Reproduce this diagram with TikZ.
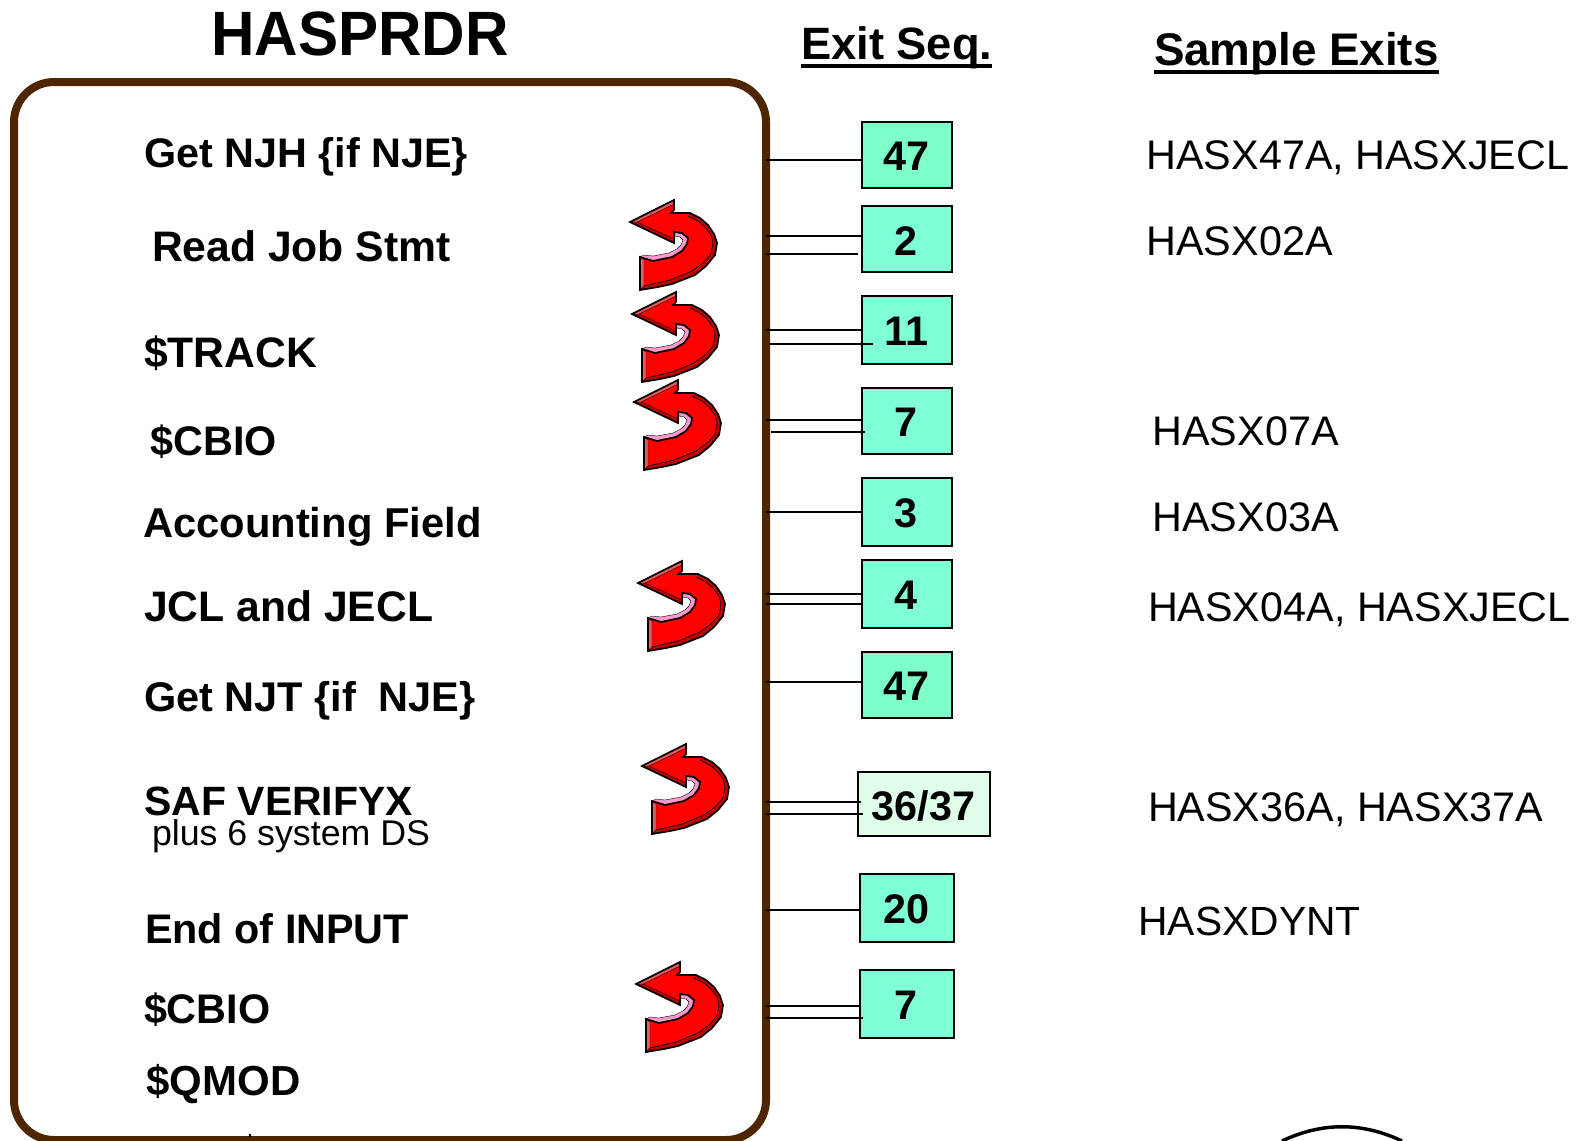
\documentclass[tikz,border=0pt]{standalone}
\usepackage{fontspec}
\setmainfont{Liberation Sans}
\newfontfamily\titlefont{Liberation Sans}[FakeStretch=0.96]
\newcommand{\ulbox}[1]{\setbox0=\hbox{#1}\rlap{\rule[-6pt]{\wd0}{3pt}}\box0}
\newcommand{\seqnode}[7][seqfill]{%
  \pgfmathsetmacro{\cxv}{(#3+#5)/2}\pgfmathsetmacro{\cyv}{(#4+#6)/2}%
  \pgfmathsetmacro{\wv}{(#5-#3)*0.75}\pgfmathsetmacro{\hv}{(#6-#4)*0.75}%
  \node[seqbox,fill=#1,minimum width=\wv pt,minimum height=\hv pt] (#2) at (\cxv,\cyv) {\raisebox{-1.2pt}[\height][\depth]{\kern-1pt #7}};}
\newcommand{\uturnoutline}{(0,0)--(44,-22)--(44,-12)--(41,-9)--(60,-9)--(70,-4)--(78,3)--(84,12)--(87,21)--(85,33)--(76,44)--(65,53)--(42,62)--(28,65)--(10,68)--(10,35)--(23,39)--(42,35)--(52,29)--(57,22)--(58,16)--(52,11)--(44,10)--(44,21)--cycle}
\definecolor{framebrown}{HTML}{4D2600}
\definecolor{seqfill}{HTML}{7FFFD8}
\definecolor{seqgreen}{HTML}{7DFFC8}
\definecolor{seqpale}{HTML}{E0FFE8}
\definecolor{bevdark}{HTML}{C00000}
\definecolor{bevpink}{HTML}{FF99CC}
\definecolor{bevrose}{HTML}{E85C5C}
\tikzset{
  bold lbl/.style={anchor=base west,inner sep=0pt,outer sep=0pt,font=\bfseries\fontsize{#1}{31}\selectfont},
  bold lbl/.default=31,
  plain lbl/.style={anchor=base west,inner sep=0pt,outer sep=0pt,font=\fontsize{#1}{31}\selectfont},
  plain lbl/.default=31,
  head lbl/.style={anchor=base west,inner sep=0pt,outer sep=0pt,font=\bfseries\fontsize{#1}{34}\selectfont},
  seqbox/.style={draw=black,line width=1.1pt,inner sep=0pt,outer sep=0pt,font=\bfseries\fontsize{31}{31}\selectfont},
  conn/.style={draw=black,line width=1.1pt},
  uturn/.pic={
    \fill[red] \uturnoutline;
    \fill[bevdark] (60,-9)--(70,-4)--(78,3)--(84,12)--(87,21)--(85,33)--(76,44)--(65,53)--(42,62)--(28,65)--(10,68)--(14,64)--(27,61)--(40,58)--(62,49)--(73,41)--(81,32)--(83,21)--(81,13)--(75,5)--(68,-1)--(58,-6)--cycle;
    \draw[black,line width=.5pt] (58,-6)--(68,-1)--(75,5)--(81,13)--(83,21)--(81,32)--(73,41)--(62,49)--(40,58)--(27,61)--(14,64);
    \fill[bevpink,draw=black,line width=.3pt] (10,35)--(23,39)--(42,35)--(52,29)--(57,22)--(58,16)--(52,11)--(44,10)--(45,14)--(50,15)--(53,18)--(51,23)--(47,27)--(39,31)--(23,34)--(14,33)--cycle;
    \fill[bevrose,draw=black,line width=.3pt] (10,35)--(14,38)--(14,64)--(10,68)--cycle;
    \fill[bevdark,draw=black,line width=.3pt] (0,0)--(44,21)--(44,17)--(7,0)--cycle;
    \fill[bevrose,draw=black,line width=.3pt] (0,0)--(44,-22)--(44,-18)--(7,0)--cycle;
    \draw[black,line width=1.3pt,line join=miter] \uturnoutline;
  }
}
\begin{document}
\begin{tikzpicture}[x=0.75pt,y=-0.75pt]
\useasboundingbox (0,0) rectangle (1593,1140);
% frame
\node[draw=framebrown,line width=6pt,rounded corners=30pt,inner sep=0pt,outer sep=0pt,
  minimum width=564pt,minimum height=793.5pt] (frame) at (390,611) {};
% headings
\node[anchor=base west,inner sep=0pt,font=\titlefont\bfseries\fontsize{47}{47}\selectfont] (title) at (211,55.5) {HASPRDR};
\node[head lbl=34] (hseq) at (801,59.5) {\ulbox{Exit Seq.}};
\node[head lbl=34.3] (hsample) at (1154,65.5) {\ulbox{Sample Exits}};
% left labels
\node[bold lbl] (l1) at (144,167.5) {Get NJH \{if NJE\}};
\node[bold lbl=32] (l2) at (152,261.5) {Read Job Stmt};
\node[bold lbl=32] (l3) at (144,367) {\$TRACK};
\node[bold lbl] (l4) at (150.5,455) {\$CBIO};
\node[bold lbl=31.3] (l5) at (143,537.5) {Accounting Field};
\node[bold lbl=32] (l6) at (144,621) {JCL and JECL};
\node[bold lbl=31.1] (l7) at (144,711.5) {Get NJT \{if\ \ NJE\}};
\node[bold lbl=30.7] (l8) at (144.5,815) {SAF VERIFYX};
\node[plain lbl=26.8] (l8b) at (152,845.5) {plus 6 system DS};
\node[bold lbl] (l9) at (145,943) {End of INPUT};
\node[bold lbl] (l10) at (144,1023) {\$CBIO};
\node[bold lbl=31.5] (l11) at (146.5,1095) {\$QMOD};
% sequence boxes
\seqnode[seqgreen]{b47}{862}{122}{952}{188}{47}
\seqnode{b2}{862}{206}{952}{272}{2}
\seqnode{b11}{862}{296}{952}{364}{11}
\seqnode{b7}{862}{388}{952}{454}{7}
\seqnode{b3}{862}{478}{952}{546}{3}
\seqnode{b4}{862}{560}{952}{628}{4}
\seqnode[seqgreen]{b47b}{862}{652}{952}{718}{47}
\seqnode[seqpale]{b36}{858}{772}{990}{836}{36/37}
\seqnode{b20}{860}{874}{954}{942}{20}
\seqnode{b7b}{860}{970}{954}{1038}{7}
% connectors
\coordinate (c47) at (frame.east |- 0,160);
\coordinate (c2a) at (frame.east |- 0,236);
\coordinate (c2b) at (frame.east |- 0,254);
\coordinate (c11a) at (frame.east |- 0,330);
\coordinate (c11b) at ([xshift=3pt]frame.east |- 0,344);
\coordinate (c7a) at (frame.east |- 0,420);
\coordinate (c7b) at ([xshift=4pt]frame.east |- 0,432);
\coordinate (c3) at (frame.east |- 0,512);
\coordinate (c4a) at (frame.east |- 0,594);
\coordinate (c4b) at (frame.east |- 0,604);
\coordinate (c47b) at (frame.east |- 0,682);
\coordinate (c36a) at (frame.east |- 0,802);
\coordinate (c36b) at (frame.east |- 0,814);
\coordinate (c20) at (frame.east |- 0,910);
\coordinate (c7ca) at (frame.east |- 0,1006);
\coordinate (c7cb) at (frame.east |- 0,1018);
\draw[conn] (c47) -- (c47 -| b47.west);
\draw[conn] (c2a) -- (c2a -| b2.west);
\draw[conn] (c2b) -- ([xshift=-3pt]c2b -| b2.west);
\draw[conn] (c11a) -- (c11a -| b11.west);
\draw[conn] (c11b) -- ([xshift=8pt]c11b -| b11.west);
\draw[conn] (c7a) -- (c7a -| b7.west);
\draw[conn] (c7b) -- ([xshift=2pt]c7b -| b7.west);
\draw[conn] (c3) -- (c3 -| b3.west);
\draw[conn] (c4a) -- (c4a -| b4.west);
\draw[conn] (c4b) -- (c4b -| b4.west);
\draw[conn] (c47b) -- (c47b -| b47b.west);
\draw[conn] (c36a) -- ([xshift=2pt]c36a -| b36.west);
\draw[conn] (c36b) -- ([xshift=3.5pt]c36b -| b36.west);
\draw[conn] (c20) -- (c20 -| b20.west);
\draw[conn] (c7ca) -- (c7ca -| b7b.west);
\draw[conn] (c7cb) -- ([xshift=2pt]c7cb -| b7b.west);
% U-turn arrows
\pic at (630,222) {uturn};
\pic at (632,314) {uturn};
\pic at (634,402) {uturn};
\pic at (638,583) {uturn};
\pic at (642,766) {uturn};
\pic at (636,984) {uturn};
% sample exits
\node[plain lbl] (s1) at (1146.5,169) {HASX47A, HASXJECL};
\node[plain lbl] (s2) at (1146.5,255) {HASX02A};
\node[plain lbl] (s3) at (1152.5,445) {HASX07A};
\node[plain lbl] (s4) at (1152.5,531) {HASX03A};
\node[plain lbl] (s5) at (1148,621) {HASX04A, HASXJECL};
\node[plain lbl] (s6) at (1148,821) {HASX36A, HASX37A};
\node[plain lbl=30.6] (s7) at (1138.5,935) {HASXDYNT};
% fragments cut by the lower page edge
\draw[black,line width=1.6pt] (250,1133.5) -- (250,1137);
\draw[black,line width=2.6pt] (1282,1141) .. controls (1322,1122) and (1362,1122) .. (1402,1141);
\end{tikzpicture}
\end{document}
